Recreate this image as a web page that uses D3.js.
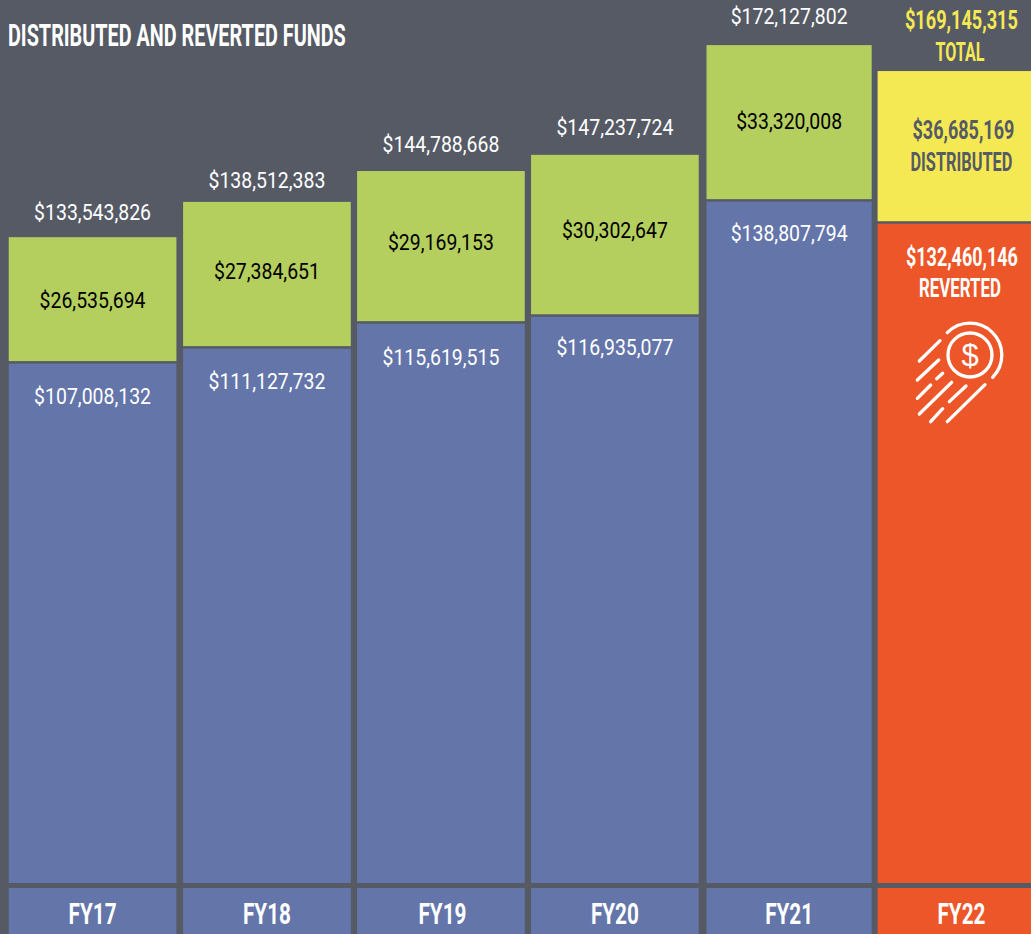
<!DOCTYPE html>
<html><head><meta charset="utf-8">
<script src="https://cdn.jsdelivr.net/npm/d3@7/dist/d3.min.js"></script>
<style>html,body{margin:0;padding:0;background:#555a65;overflow:hidden}svg{display:block}</style>
</head><body><svg id="c" width="1031" height="934"></svg>
<script>
const categories = ["FY17","FY18","FY19","FY20","FY21","FY22"];
// Amounts printed on the chart
const totals      = [133543826,138512383,144788668,147237724,172127802,169145315];
const distributed = [26535694,27384651,29169153,30302647,33320008,36685169];
const reverted    = [107008132,111127732,115619515,116935077,138807794,132460146];
// The source graphic is not drawn exactly to scale: bar heights, $M
const drawnTotal  = [131.8,139.0,145.3,148.6,171.0,165.7];
const drawnLower  = [106.0,109.05,114.15,115.55,139.05,134.55];

const W=1031,H=934,base=883;
const svg=d3.select("#c");
const money=d3.format("$,");
const face="Roboto,'Liberation Sans',sans-serif";
const x=d3.scaleBand().domain(categories).range([5.6,5.6+173.8*6]).paddingInner(0.035).paddingOuter(0.018);
const y=d3.scaleLinear().domain([0,180]).range([base,base-180*4.9]);
// hand-cut layout of the source: slight offsets and trim per column
const nudge=[0,0.6,0.8,1,2.7,0], trim=[0,0,0,0,2.5,0];
const rows=categories.map((c,i)=>({c,i,t:totals[i],d:distributed[i],r:reverted[i],dt:drawnTotal[i],dl:drawnLower[i]}));
const hist=rows.slice(0,5), last=rows[5];
const C={bg:"#555a65",blue:"#6475a9",green:"#b5cf5f",yellow:"#f5e953",orange:"#ec5628"};
const bx=d=>x(d.c)+nudge[d.i], bw=d=>x.bandwidth()-trim[d.i];

svg.append("rect").attr("width",W).attr("height",H).attr("fill",C.bg);
svg.selectAll("rect.up").data(rows).join("rect").attr("class","up")
 .attr("x",bx).attr("width",bw)
 .attr("y",d=>y(d.dt)).attr("height",d=>y(d.dl)-y(d.dt)-2.5)
 .attr("fill",d=>d.i===5?C.yellow:C.green);
svg.selectAll("rect.low").data(rows).join("rect").attr("class","low")
 .attr("x",bx).attr("width",bw)
 .attr("y",d=>y(d.dl)).attr("height",d=>base-y(d.dl))
 .attr("fill",d=>d.i===5?C.orange:C.blue);
svg.selectAll("rect.foot").data(rows).join("rect").attr("class","foot")
 .attr("x",bx).attr("width",bw).attr("y",888).attr("height",46)
 .attr("fill",d=>d.i===5?C.orange:C.blue);

// text squeezed horizontally to the condensed width of the source lettering
function label(sel,o){
 const t=sel.append("text").attr("text-anchor",o.anchor||"middle").attr("font-family",face)
  .attr("font-size",o.size).attr("font-weight",o.bold?700:400).attr("fill",o.fill).text(o.text);
 const k=o.len/t.node().getComputedTextLength();
 t.attr("transform",`translate(${o.x},${o.y}) scale(${k},1)`);
 return t;
}
const cx=d=>bx(d)+bw(d)/2;
const g=svg.append("g");
hist.forEach(d=>{
 const topY=y(d.dt), midY=y(d.dl);
 label(g,{x:cx(d),y:topY-[17.5,14,19,20,21][d.i],size:22.5,fill:"#fff",text:money(d.t),len:117});
 label(g,{x:cx(d),y:topY+[71,77,79,83,84][d.i],size:22.5,fill:"#000",text:money(d.d),len:106});
 label(g,{x:cx(d),y:midY+[40,40,41,38,39][d.i],size:22.5,fill:"#fff",text:money(d.r),len:117});
});
rows.forEach(d=>label(g,{x:cx(d)+(d.i===2?1.5:0),y:924,size:29,bold:true,fill:"#fff",text:d.c,len:48}));

const lx=cx(last);
label(g,{x:lx,y:28.5,size:25,bold:true,fill:C.yellow,text:money(last.t),len:113});
label(g,{x:lx-1.5,y:60.5,size:25,bold:true,fill:C.yellow,text:"TOTAL",len:49});
label(g,{x:lx+2,y:138.5,size:25,bold:true,fill:C.bg,text:money(last.d),len:102});
label(g,{x:lx,y:170.5,size:25,bold:true,fill:C.bg,text:"DISTRIBUTED",len:102});
label(g,{x:lx+0.5,y:265.5,size:25,bold:true,fill:"#fff",text:money(last.r),len:112});
label(g,{x:lx-1.5,y:297,size:25,bold:true,fill:"#fff",text:"REVERTED",len:82});

label(svg,{x:8,y:46,anchor:"start",size:31,bold:true,fill:"#fff",text:"DISTRIBUTED AND REVERTED FUNDS",len:338});

const icon=svg.append("g").attr("transform","translate(890,300) scale(0.3333)")
 .attr("fill","none").attr("stroke","#fff").attr("stroke-width",10).attr("stroke-linecap","round");
icon.append("circle").attr("cx",240).attr("cy",165).attr("r",66);
icon.append("path").attr("d","M172,98 A95,95 0 0 1 308,232");
[[88,183,150,122],[82,240,146,180],[140,236,158,220],[82,295,122,255],[88,342,185,247],[178,305,228,258],[122,365,158,326],[172,365,285,254]]
 .forEach(s=>icon.append("line").attr("x1",s[0]).attr("y1",s[1]).attr("x2",s[2]).attr("y2",s[3]));
svg.append("text").attr("x",970).attr("y",366).attr("text-anchor","middle").attr("font-family","'Liberation Sans',sans-serif")
 .attr("font-weight",400).attr("font-size",31).attr("fill","#fff").text("$");
</script></body></html>
